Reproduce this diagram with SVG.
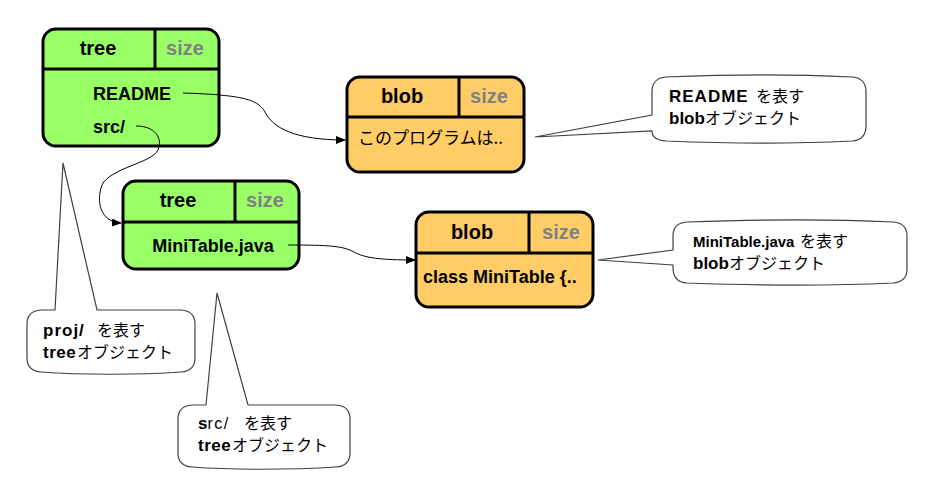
<svg xmlns="http://www.w3.org/2000/svg" width="935" height="501" viewBox="0 0 935 501">
<defs>
<marker id="ah" markerWidth="10" markerHeight="8" refX="9" refY="4" orient="auto" markerUnits="userSpaceOnUse">
<path d="M0,0 L10,4 L0,8 Z" fill="#000"/>
</marker>
</defs>
<style>
text{font-family:"Liberation Sans","Noto Sans CJK JP",sans-serif;fill:#000}
.box{stroke:#000;stroke-width:3}
.tree{fill:#99FF66}
.blob{fill:#FFCC66}
.div{stroke:#000;stroke-width:3;fill:none}
.hd{font-size:20px;font-weight:bold;text-anchor:middle}
.sz{fill:#808080}
.bd{font-size:18px;font-weight:bold}
.jp{font-size:17px;font-family:"Noto Sans CJK JP",sans-serif}
.call{fill:#fff;stroke:#404040;stroke-width:1.2}
.ct{font-size:17px;font-weight:bold}
.ct15{font-size:15px;font-weight:bold}
.cj{font-size:16px;font-weight:normal;font-family:"Noto Sans CJK JP",sans-serif}
.cl{font-size:16px;font-weight:normal;font-family:"Liberation Sans",sans-serif}
.conn{fill:none;stroke:#000;stroke-width:1}
</style>

<g id="tree1">
<rect class="box tree" x="43" y="29" width="176" height="117" rx="13"/>
<line class="div" x1="43" y1="69" x2="219" y2="69"/>
<line class="div" x1="155" y1="29" x2="155" y2="69"/>
<text class="hd" x="98" y="55">tree</text>
<text class="hd sz" x="185" y="55">size</text>
<text class="bd" x="93" y="100">README</text>
<text class="bd" x="93" y="133">src/</text>
</g>

<g id="blob1">
<rect class="box blob" x="347" y="77" width="177" height="95" rx="13"/>
<line class="div" x1="347" y1="117" x2="524" y2="117"/>
<line class="div" x1="459" y1="77" x2="459" y2="117"/>
<text class="hd" x="402" y="103">blob</text>
<text class="hd sz" x="489" y="103">size</text>
<text class="jp" x="358" y="144">このプログラムは..</text>
</g>

<g id="tree2">
<rect class="box tree" x="123" y="181" width="176" height="88" rx="13"/>
<line class="div" x1="123" y1="222" x2="299" y2="222"/>
<line class="div" x1="235" y1="181" x2="235" y2="222"/>
<text class="hd" x="178" y="207">tree</text>
<text class="hd sz" x="265" y="207">size</text>
<text class="bd" x="213" y="252" text-anchor="middle">MiniTable.java</text>
</g>

<g id="blob2">
<rect class="box blob" x="416" y="212" width="177" height="95" rx="13"/>
<line class="div" x1="416" y1="253" x2="593" y2="253"/>
<line class="div" x1="529" y1="212" x2="529" y2="253"/>
<text class="hd" x="472" y="239">blob</text>
<text class="hd sz" x="561" y="239">size</text>
<text class="bd" x="423" y="283">class MiniTable {..</text>
</g>

<g id="callout-readme">
<path class="call" d="M666,77 C740,74 790,74 852,77 Q866,78 866,92 L866,126 Q866,140 852,141 C790,144 740,144 666,141 Q652,140 652,131 L535,137 L652,115 L652,92 Q652,78 666,77 Z"/>
<text x="669" y="102"><tspan class="ct" letter-spacing="1">README</tspan><tspan class="cj" x="756">を表す</tspan></text>
<text x="669" y="124"><tspan class="ct">blob</tspan><tspan class="cj" x="705">オブジェクト</tspan></text>
</g>

<g id="callout-minitable">
<path class="call" d="M687,222 C770,219 830,219 893,222 Q907,223 907,236 L907,269 Q907,282 893,283 C830,286 770,286 687,283 Q673,282 673,268 L673,265 L598,260 L673,250 L673,236 Q673,223 687,222 Z"/>
<text x="693" y="247"><tspan class="ct15">MiniTable.java</tspan><tspan class="cj" x="800">を表す</tspan></text>
<text x="693" y="269"><tspan class="ct">blob</tspan><tspan class="cj" x="729">オブジェクト</tspan></text>
</g>

<g id="callout-proj">
<path class="call" d="M41,310 L55,310 L63,163 L97,310 L181,310 Q195,311 195,324 L195,358 Q195,371 181,372 C140,375 80,375 41,372 Q27,371 27,358 L27,324 Q27,311 41,310 Z"/>
<text x="43" y="336"><tspan class="ct" letter-spacing="1">proj/</tspan><tspan class="cj" x="97">を表す</tspan></text>
<text x="43" y="358"><tspan class="ct" letter-spacing="0.5">tree</tspan><tspan class="cj" x="77">オブジェクト</tspan></text>
</g>

<g id="callout-src">
<path class="call" d="M192,405 L206,405 L217,293 L248,405 L336,405 Q350,406 350,419 L350,453 Q350,466 336,467 C290,470 230,470 192,467 Q178,466 178,453 L178,419 Q178,406 192,405 Z"/>
<text x="198" y="429"><tspan class="ct">s</tspan><tspan class="cl" letter-spacing="1.5">rc/</tspan><tspan class="cj" x="244">を表す</tspan></text>
<text x="198" y="451"><tspan class="ct" letter-spacing="0.5">tree</tspan><tspan class="cj" x="232">オブジェクト</tspan></text>
</g>

<g id="connectors">
<path class="conn" d="M183,93 C245,95 258,100 265,112 C273,128 295,140 345,140" marker-end="url(#ah)"/>
<path class="conn" d="M136,126 C155,126 163,138 158,150 C152,163 110,168 102,185 C96,201 100,222 121,223" marker-end="url(#ah)"/>
<path class="conn" d="M288,245 C330,245 343,246 354,252 C365,258 380,260 415,260" marker-end="url(#ah)"/>
</g>
</svg>
